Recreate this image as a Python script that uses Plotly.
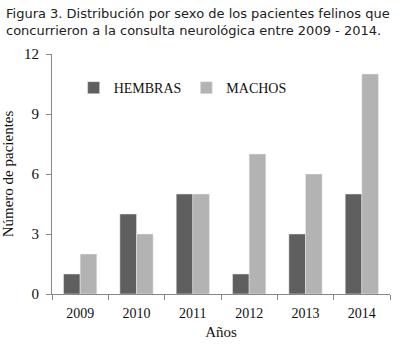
import plotly.graph_objects as go

years = ["2009", "2010", "2011", "2012", "2013", "2014"]
hembras = [1, 4, 5, 1, 3, 5]
machos = [2, 3, 5, 7, 6, 11]

fig = go.Figure()
fig.add_trace(go.Bar(x=years, y=hembras, name="HEMBRAS", marker_color="#5f5f5f"))
fig.add_trace(go.Bar(x=years, y=machos, name="MACHOS", marker_color="#b3b3b3"))

serif = "Liberation Serif, Times New Roman, serif"
L, R, T, B = 52, 14, 54, 51
pw, ph = 404 - L - R, 345 - T - B
fig.add_annotation(
    text="Figura 3. Distribución por sexo de los pacientes felinos que<br>concurrieron a la consulta neurológica entre 2009 - 2014.",
    xref="paper", yref="paper", x=-(L - 4) / pw, y=1 + (T - 4) / ph,
    xanchor="left", yanchor="top", align="left", showarrow=False,
    font=dict(family="DejaVu Sans, Verdana, sans-serif", size=13, color="#222"),
)
fig.update_layout(
    width=404, height=345,
    margin=dict(l=L, r=R, t=T, b=B),
    paper_bgcolor="white", plot_bgcolor="white",
    barmode="group", bargap=0.41, bargroupgap=0,
    font=dict(family=serif, size=14, color="#111"),
    legend=dict(orientation="h", x=0.064, y=0.858, xanchor="left", yanchor="middle",
                font=dict(family=serif, size=14), bgcolor="rgba(0,0,0,0)",
                itemwidth=30),
    xaxis=dict(
        title=dict(text="Años", font=dict(family=serif, size=15), standoff=6),
        showline=True, linecolor="#888", linewidth=1,
        ticks="outside", tickson="boundaries", ticklen=5, tickcolor="#888",
        tickfont=dict(family=serif, size=14), ticklabelstandoff=6,
        showgrid=False, automargin=False,
    ),
    yaxis=dict(
        title=dict(text="Número de pacientes", font=dict(family=serif, size=15), standoff=7),
        range=[0, 12], dtick=3, tick0=0,
        showline=True, linecolor="#888", linewidth=1,
        ticks="outside", ticklen=5, tickcolor="#888",
        tickfont=dict(family=serif, size=15), ticklabelstandoff=4,
        showgrid=False, zeroline=False, automargin=False,
    ),
)
fig.write_html("out.html")
